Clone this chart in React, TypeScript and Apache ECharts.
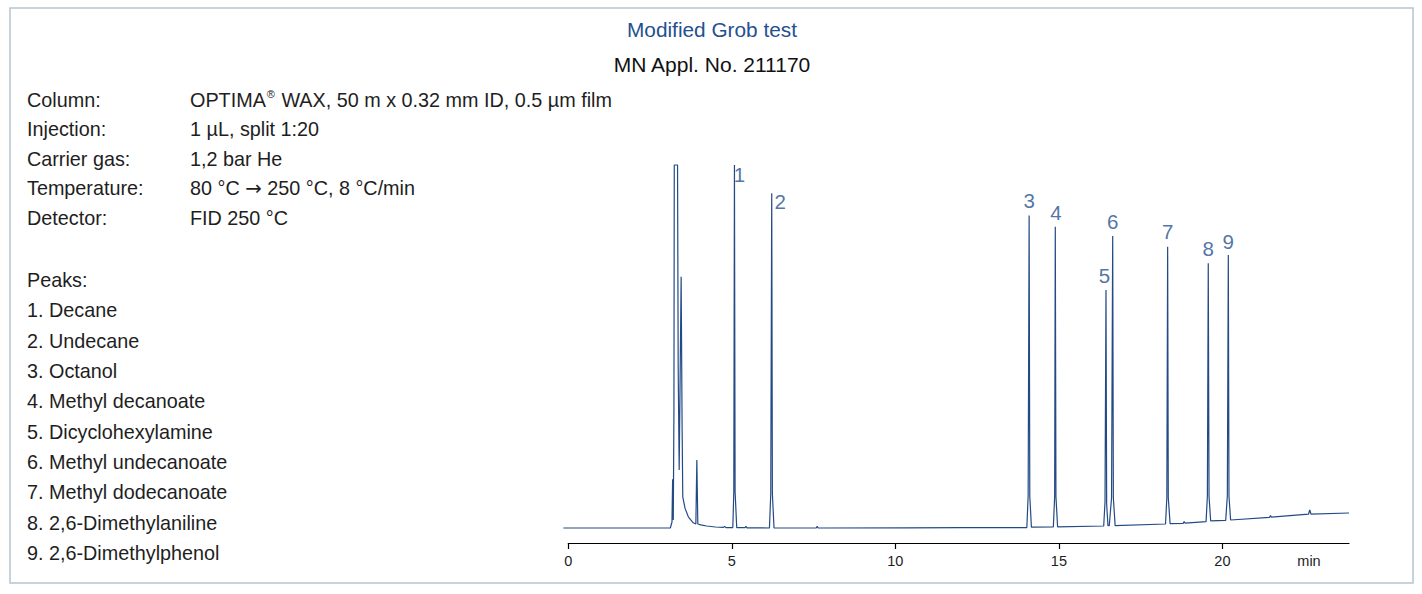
import React, { useEffect, useRef } from 'react';
import * as echarts from 'echarts';

// ---------- data ----------
const titleText = 'Modified Grob test';
const subtitleText = 'MN Appl. No. 211170';

const conditionLabels = ['Column:', 'Injection:', 'Carrier gas:', 'Temperature:', 'Detector:'];
const conditionValues = [
  'OPTIMA® WAX, 50 m x 0.32 mm ID, 0.5 µm film',
  '1 µL, split 1:20',
  '1,2 bar He',
  '80 °C → 250 °C, 8 °C/min',
  'FID 250 °C',
];

const peaksHeader = 'Peaks:';
const peakNames = [
  'Decane',
  'Undecane',
  'Octanol',
  'Methyl decanoate',
  'Dicyclohexylamine',
  'Methyl undecanoate',
  'Methyl dodecanoate',
  '2,6-Dimethylaniline',
  '2,6-Dimethylphenol',
];

// apex of each numbered peak: retention time (min) and detector signal
const peakNumbers = ['1', '2', '3', '4', '5', '6', '7', '8', '9'];
const peakTimes = [5.08, 6.22, 14.09, 14.89, 16.44, 16.645, 18.325, 19.567, 20.18];
const peakSignals = [90.75, 83.7, 78.1, 75.3, 59.5, 73, 70.3, 66.2, 68.25];

// full chromatogram trace [time (min), signal]
const trace: [number, number][] = [
  [-0.15, 0], [3.12, 0], [3.17, 1.5], [3.19, 12.2], [3.21, 2.0], [3.23, 30],
  [3.24, 90.75], [3.34, 90.75], [3.36, 40], [3.39, 14.5], [3.41, 30], [3.45, 62.8],
  [3.48, 25], [3.5, 7.8], [3.57, 4.9], [3.67, 2.8], [3.82, 1.3], [3.9, 1.0],
  [3.93, 17], [3.96, 1.0], [4.05, 0.8], [4.23, 0.5], [4.5, 0.25], [4.73, 0.15],
  [4.78, 0.4], [4.82, 0.1], [5.03, 0.1], [5.06, 9], [5.08, 90.75], [5.1, 9],
  [5.15, 0.1], [5.4, 0.1], [5.43, 0.4], [5.46, 0.05], [6.15, 0], [6.19, 8.5],
  [6.22, 83.7], [6.24, 8.5], [6.29, 0], [7.58, 0], [7.61, 0.4], [7.64, 0],
  [10.3, 0.05], [12.0, 0.1], [13.2, 0.1], [14.02, 0.1], [14.06, 8], [14.09, 78.1],
  [14.11, 8], [14.16, 0.2], [14.83, 0.25], [14.87, 7.8], [14.89, 75.3], [14.91, 7.8],
  [14.96, 0.3], [16.37, 0.5], [16.41, 6.5], [16.44, 59.5], [16.46, 6], [16.5, 0.6],
  [16.54, 0.6], [16.61, 7.5], [16.645, 73], [16.665, 7.5], [16.72, 0.6], [18.26, 1.0],
  [18.3, 7.5], [18.325, 70.3], [18.345, 7.5], [18.4, 1.1], [18.8, 1.15], [18.83, 1.6],
  [18.86, 1.2], [19.5, 1.6], [19.54, 8], [19.567, 66.2], [19.59, 8], [19.64, 1.8],
  [20.1, 1.9], [20.15, 8], [20.18, 68.25], [20.2, 8], [20.25, 2.0], [21.44, 2.65],
  [21.47, 3.1], [21.5, 2.7], [22.63, 3.45], [22.67, 4.5], [22.71, 3.45], [23.87, 3.75],
];

const xTickValues = [0, 5, 10, 15, 20];
const xUnit = 'min';
const xMax = 23.87;

// ---------- styles ----------
const FONT = '"Liberation Sans", Arial, Helvetica, sans-serif';
const ARROW_FONT = '"DejaVu Sans", sans-serif';
const BLUE = '#24508f';
const TEXT = '#1e1e1e';
const TRACE = '#244a86';
const BODY_SIZE = 19.8;

// label offsets (px) relative to each apex
const labelOffsets: [number, number][] = [
  [5, 9], [8.5, 8], [0, -15], [0.7, -14], [-1.5, -14.5], [0, -15], [0, -15], [0, -14.6], [0, -14],
];

export default function App() {
  const ref = useRef<HTMLDivElement>(null);

  useEffect(() => {
    document.body.style.margin = '0';
    if (!ref.current) return;
    const chart = echarts.init(ref.current, undefined, { renderer: 'svg' });

    const graphics: any[] = [];
    graphics.push({
      type: 'rect',
      shape: { x: 10, y: 8, width: 1403, height: 575 },
      style: { fill: 'none', stroke: '#b7c3cf', lineWidth: 1.5 },
      silent: true,
    });
    graphics.push({
      type: 'text',
      x: 712,
      y: 29,
      style: { text: titleText, fill: BLUE, font: `20.8px ${FONT}`, align: 'center', verticalAlign: 'middle' },
    });
    graphics.push({
      type: 'text',
      x: 712,
      y: 64,
      style: { text: subtitleText, fill: '#111', font: `21px ${FONT}`, align: 'center', verticalAlign: 'middle' },
    });

    const richBase = {
      t: { fontSize: BODY_SIZE, fontFamily: FONT, color: TEXT, lineHeight: 22 },
      sup: { fontSize: 11, fontFamily: FONT, color: TEXT, verticalAlign: 'top', lineHeight: 22, padding: [0, 1, 9, 1] },
      arr: { fontSize: BODY_SIZE, fontFamily: ARROW_FONT, color: TEXT, lineHeight: 22 },
    };

    const condY = [99.5, 129, 158.5, 188, 217.5];
    conditionLabels.forEach((lab, i) => {
      graphics.push({
        type: 'text',
        x: 27,
        y: condY[i],
        style: { text: lab, fill: TEXT, font: `${BODY_SIZE}px ${FONT}`, verticalAlign: 'middle' },
      });
      const val = conditionValues[i];
      let rich = '';
      if (val.indexOf('®') >= 0) {
        const [a, b] = val.split('®');
        rich = `{t|${a}}{sup|®}{t|${b}}`;
      } else if (val.indexOf('→') >= 0) {
        const [a, b] = val.split('→');
        rich = `{t|${a}}{arr|→}{t|${b}}`;
      }
      if (rich) {
        graphics.push({
          type: 'text',
          x: 190,
          y: condY[i],
          style: { text: rich, fill: TEXT, verticalAlign: 'middle', rich: richBase },
        });
      } else {
        graphics.push({
          type: 'text',
          x: 190,
          y: condY[i],
          style: { text: val, fill: TEXT, font: `${BODY_SIZE}px ${FONT}`, verticalAlign: 'middle' },
        });
      }
    });

    const listY0 = 280;
    const listStep = 30.35;
    graphics.push({
      type: 'text',
      x: 27,
      y: listY0,
      style: { text: peaksHeader, fill: TEXT, font: `${BODY_SIZE}px ${FONT}`, verticalAlign: 'middle' },
    });
    peakNames.forEach((n, i) => {
      graphics.push({
        type: 'text',
        x: 27,
        y: listY0 + listStep * (i + 1),
        style: { text: `${i + 1}. ${n}`, fill: TEXT, font: `${BODY_SIZE}px ${FONT}`, verticalAlign: 'middle' },
      });
    });

    graphics.push({
      type: 'text',
      x: 1309,
      y: 561,
      style: { text: xUnit, fill: TEXT, font: `14.5px ${FONT}`, align: 'center', verticalAlign: 'middle' },
    });

    const axisLeft = 568.3;
    const axisRight = 73;
    const pxPerMin = (1422 - axisRight - axisLeft) / xMax;
    const traceMin = -0.2;

    const option: any = {
      animation: false,
      backgroundColor: '#ffffff',
      graphic: graphics,
      grid: [
        { left: axisLeft + traceMin * pxPerMin, right: axisRight, top: 128, bottom: 594 - 568 },
        { left: axisLeft, right: axisRight, top: 533, height: 10 },
      ],
      xAxis: [
        {
          gridIndex: 0,
          type: 'value',
          min: traceMin,
          max: xMax,
          show: false,
        },
        {
          gridIndex: 1,
          type: 'value',
          min: 0,
          max: xMax,
          axisLine: { show: true, lineStyle: { color: '#000', width: 1.2 } },
          axisTick: { show: true, customValues: xTickValues, length: 6, lineStyle: { color: '#000', width: 1.2 } },
          axisLabel: {
            show: true,
            customValues: xTickValues,
            fontSize: 14.5,
            fontFamily: FONT,
            color: TEXT,
            margin: 10,
          },
          splitLine: { show: false },
        },
      ],
      yAxis: [
        { gridIndex: 0, type: 'value', min: -10, max: 100, show: false },
        { gridIndex: 1, type: 'value', min: 0, max: 1, show: false },
      ],
      series: [
        {
          type: 'line',
          xAxisIndex: 0,
          yAxisIndex: 0,
          data: trace,
          showSymbol: false,
          symbol: 'none',
          silent: true,
          clip: false,
          lineStyle: { color: TRACE, width: 1.2 },
        },
        {
          type: 'scatter',
          xAxisIndex: 0,
          yAxisIndex: 0,
          symbolSize: 0,
          silent: true,
          data: peakNumbers.map((n, i) => ({
            name: n,
            value: [peakTimes[i], peakSignals[i]],
            label: { offset: labelOffsets[i] },
          })),
          label: {
            show: true,
            position: [0, 0],
            align: 'center',
            verticalAlign: 'middle',
            formatter: (p: any) => p.name,
            fontSize: 20.5,
            fontFamily: FONT,
            color: BLUE,
          },
        },
      ],
    };

    chart.setOption(option);
    return () => chart.dispose();
  }, []);

  return (
    <div
      ref={ref}
      style={{ position: 'absolute', left: 0, top: 0, width: 1422, height: 594, background: '#fff' }}
    />
  );
}
